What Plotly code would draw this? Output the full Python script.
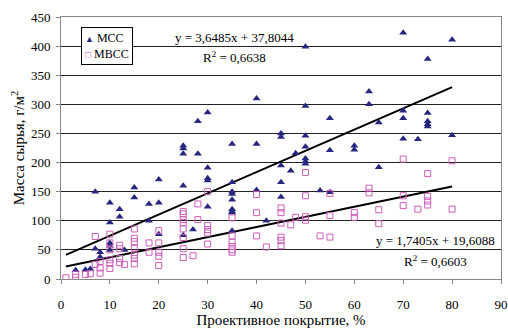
import plotly.graph_objects as go

# ---- data ----
mcc_x = [3, 5, 6, 7, 7, 8, 8, 10, 10, 10, 10, 10, 12, 12, 13, 15, 15, 18, 18,
         20, 20, 20, 25, 25, 25, 25, 25, 27, 28, 28, 30, 30, 30, 30, 30,
         35, 35, 35, 35, 35, 35, 35, 35, 35, 40, 40, 40, 42, 45, 45, 45, 45, 45,
         47, 48, 50, 50, 50, 50, 50, 50, 50, 53, 55, 55, 55, 60, 60, 63, 63,
         65, 65, 70, 70, 70, 70, 73, 75, 75, 75, 75, 75, 80, 80]
mcc_y = [15, 16, 17, 150, 52, 46, 38, 131, 97, 62, 57, 50, 120, 107, 50, 157, 140, 129, 100,
         171, 131, 77, 229, 224, 215, 160, 75, 85, 271, 215, 286, 191, 173, 169, 124,
         232, 166, 150, 146, 136, 120, 116, 114, 83, 310, 232, 153, 100, 250, 244, 195, 166, 141,
         186, 216, 399, 297, 246, 227, 207, 202, 198, 152, 276, 221, 149, 229, 222, 322, 300,
         269, 192, 423, 289, 276, 241, 240, 378, 285, 271, 266, 262, 411, 247]

mvcc_x = [1, 3, 3, 5, 6, 7, 7, 8, 8, 8, 10, 10, 10, 10, 10, 10, 12, 12, 12, 12, 13,
          15, 15, 15, 15, 15, 15, 15, 18, 18, 20, 20, 20, 20, 20,
          25, 25, 25, 25, 25, 25, 25, 25, 27, 28, 28, 30, 30, 30, 30, 30,
          35, 35, 35, 35, 35, 35, 40, 40, 40, 42, 45, 45, 45, 45, 45, 45,
          47, 48, 50, 50, 50, 50, 53, 55, 55, 55, 60, 60, 63, 63, 65, 65,
          70, 70, 70, 73, 75, 75, 75, 75, 80, 80]
mvcc_y = [2, 8, 3, 8, 9, 73, 25, 30, 19, 10, 77, 62, 50, 33, 27, 18, 58, 52, 35, 28, 25,
          86, 70, 64, 53, 41, 35, 26, 62, 46, 83, 62, 46, 39, 23,
          116, 112, 102, 97, 86, 71, 52, 37, 40, 129, 102, 150, 92, 85, 79, 60,
          105, 74, 63, 56, 50, 46, 145, 114, 74, 55, 122, 114, 96, 72, 66, 57,
          93, 106, 183, 143, 107, 101, 74, 147, 109, 72, 114, 106, 156, 148, 119, 95,
          206, 143, 126, 120, 181, 142, 134, 127, 203, 120]

series_names = ["МСС", "МВСС"]

# trend line coefficients (as printed on the chart)
mcc_slope, mcc_icpt = 3.6485, 37.8044
mvcc_slope, mvcc_icpt = 1.7405, 19.6088
eq_mcc = ["y = 3,6485x + 37,8044", "R<sup>2</sup> = 0,6638"]
eq_mvcc = ["y = 1,7405x + 19,6088", "R<sup>2</sup> = 0,6603"]

x_ticks = [0, 10, 20, 30, 40, 50, 60, 70, 80, 90]
y_ticks = [0, 50, 100, 150, 200, 250, 300, 350, 400, 450]

FONT = "Liberation Serif, Times New Roman, serif"
NAVY = "#27277f"
PINK = "#cc5fb8"

xmin = min(mcc_x + mvcc_x)
xmax = max(mcc_x + mvcc_x)

fig = go.Figure()

fig.add_trace(go.Scatter(
    x=[xmin, xmax], y=[mcc_slope * xmin + mcc_icpt, mcc_slope * xmax + mcc_icpt],
    mode="lines", line=dict(color="black", width=2), showlegend=False, hoverinfo="skip"))
fig.add_trace(go.Scatter(
    x=[xmin, xmax], y=[mvcc_slope * xmin + mvcc_icpt, mvcc_slope * xmax + mvcc_icpt],
    mode="lines", line=dict(color="black", width=2), showlegend=False, hoverinfo="skip"))

fig.add_trace(go.Scatter(
    x=mcc_x, y=mcc_y, mode="markers", name=series_names[0], showlegend=False,
    marker=dict(symbol="triangle-up", size=7, color=NAVY, line=dict(width=0))))
fig.add_trace(go.Scatter(
    x=mvcc_x, y=mvcc_y, mode="markers", name=series_names[1], showlegend=False,
    marker=dict(symbol="square-open", size=6, color=PINK, line=dict(width=1, color=PINK))))

# equations
eq_font = dict(family=FONT, size=13, color="black")
for txt, xx, yy in [(eq_mcc[0], 0.395, 0.923), (eq_mcc[1], 0.395, 0.847),
                    (eq_mvcc[0], 0.852, 0.146), (eq_mvcc[1], 0.852, 0.068)]:
    fig.add_annotation(x=xx, y=yy, xref="paper", yref="paper", text=txt,
                       xanchor="center", yanchor="middle", showarrow=False, font=eq_font)

# compact boxed legend
legend_text = (f"<span style='color:{NAVY};font-size:9px'>▲</span> {series_names[0]}<br>"
               f"<span style='color:{PINK};font-size:10px'>□</span> {series_names[1]}")
fig.add_annotation(x=0.045, y=0.96, xref="paper", yref="paper", xanchor="left", yanchor="top",
                   text=legend_text, align="left", showarrow=False,
                   font=dict(family=FONT, size=12, color="black"),
                   bgcolor="white", bordercolor="black", borderwidth=1, borderpad=3)

fig.update_layout(
    width=508, height=328,
    margin=dict(l=60.5, r=7.3, t=16.7, b=48.5, autoexpand=False),
    paper_bgcolor="white", plot_bgcolor="white",
    font=dict(family=FONT, size=13, color="black"),
    showlegend=False,
    xaxis=dict(range=[0, 90], tickmode="array", tickvals=x_ticks,
               showgrid=False, zeroline=False, automargin=False,
               showline=True, linecolor="#888888", linewidth=1, mirror=True,
               ticks="outside", ticklen=4, tickcolor="#888888",
               ticklabelstandoff=9, ticklabeloverflow="allow",
               tickfont=dict(family=FONT, size=13),
               title=dict(text="Проективное покрытие, %", font=dict(family=FONT, size=15),
                          standoff=0)),
    yaxis=dict(range=[0, 450], tickmode="array", tickvals=y_ticks,
               showgrid=True, gridcolor="#222222", gridwidth=1, zeroline=False, automargin=False,
               showline=True, linecolor="#888888", linewidth=1, mirror=True,
               ticks="outside", ticklen=4, tickcolor="#888888",
               ticklabelstandoff=3, ticklabeloverflow="allow",
               tickfont=dict(family=FONT, size=13),
               title=dict(text="Масса сырья, г/м<sup>2</sup>", font=dict(family=FONT, size=15),
                          standoff=2)),
)

# remove the browser's default 8px page margin so the 508x328 figure fills the window
fig.write_html("out.html",
               config={"displayModeBar": False},
               post_script="document.body.style.margin='0px';document.body.style.overflow='hidden';")
